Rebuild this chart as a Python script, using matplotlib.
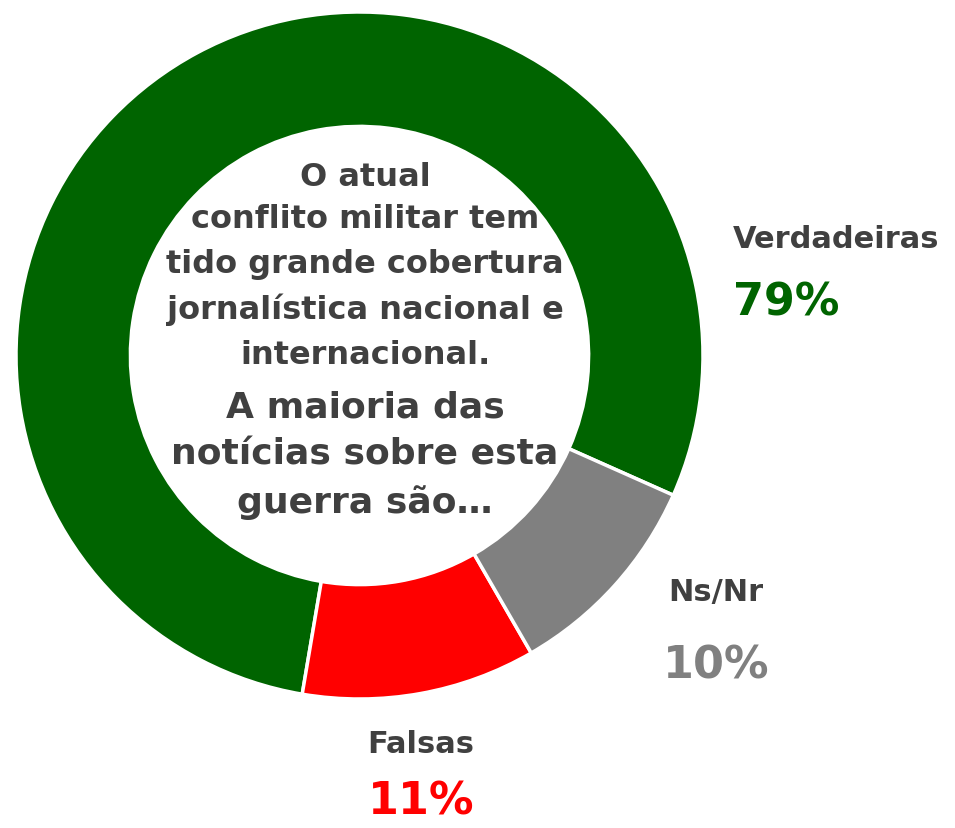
import numpy as np
import matplotlib
matplotlib.use("Agg")
from matplotlib import pyplot as plt

# data
categories = ['Verdadeiras', 'Falsas', 'Ns/Nr']
values = [79, 11, 10]
colors = ['#006400', '#FF0000', '#808080']
value_colors = ['#006400', '#FF0000', '#808080']

question_top = ['O atual', 'conflito militar tem', 'tido grande cobertura',
                'jornalística nacional e', 'internacional.']
question_bottom = ['A maioria das', 'notícias sobre esta', 'guerra são…']

TEXT_GREY = '#404040'
W, H = 955, 829

plt.rcParams['font.family'] = ['DejaVu Sans']

fig = plt.figure(figsize=(W / 100, H / 100), dpi=100)
ax = fig.add_axes([0, 0, 1, 1])

# donut, centre/radius in pixel units
cx, cy, R = 359.5, H - 356.5, 343.5
ax.pie(values, colors=colors, startangle=-24, counterclock=True,
       radius=R, center=(cx, cy),
       wedgeprops=dict(width=R * 0.333, edgecolor='white', linewidth=2.5))
ax.set_xlim(0, W)
ax.set_ylim(0, H)
ax.set_aspect('equal')
ax.axis('off')

# centre question
top_y = [H - 178, H - 220, H - 265, H - 310, H - 355]
for line, y in zip(question_top, top_y):
    ax.text(365, y, line, ha='center', va='center', fontsize=23,
            fontweight='bold', color=TEXT_GREY)
bottom_y = [H - 407, H - 455, H - 503]
for line, y in zip(question_bottom, bottom_y):
    ax.text(365, y, line, ha='center', va='center', fontsize=26,
            fontweight='bold', color=TEXT_GREY)

# outside labels: (x, y of name, y of value, alignment)
label_pos = {
    'Verdadeiras': (733, H - 240, H - 303, 'left'),
    'Ns/Nr': (716, H - 592, H - 666, 'center'),
    'Falsas': (421, H - 745, H - 802, 'center'),
}
for cat, val, vc in zip(categories, values, value_colors):
    x, yn, yv, ha = label_pos[cat]
    ax.text(x, yn, cat, ha=ha, va='center', fontsize=22,
            fontweight='bold', color=TEXT_GREY)
    ax.text(x, yv, '%d%%' % val, ha=ha, va='center', fontsize=32,
            fontweight='bold', color=vc)

fig.savefig('out.png', dpi=100)
